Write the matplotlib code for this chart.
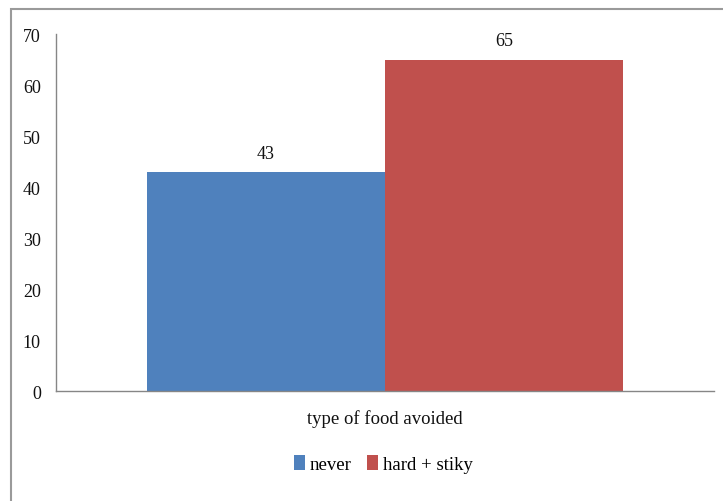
import matplotlib
matplotlib.use('Agg')
import matplotlib.pyplot as plt
from matplotlib.patches import Rectangle

# one category, two series
category = 'type of food avoided'
series = ['never', 'hard + stiky']
values = [43, 65]
colors = ['#4F81BD', '#C0504D']
yticks = [0, 10, 20, 30, 40, 50, 60, 70]

plt.rcParams['font.family'] = ['Liberation Serif', 'DejaVu Serif']

fig = plt.figure(figsize=(7.23, 5.02), dpi=100)
ax = fig.add_axes([0.0775, 0.219, 0.9101, 0.711])

w = 0.362
offsets = [-w / 2, w / 2]
for off, v, c, name in zip(offsets, values, colors, series):
    ax.bar(off, v, width=w, color=c, label=name)
    ax.text(off, v + 2.0, str(v), ha='center', va='bottom', fontsize=13, color='#111111')

ax.set_xlim(-0.5, 0.5)
ax.set_ylim(0, 70)
ax.set_yticks(yticks)
ax.set_yticklabels([str(t) for t in yticks], fontsize=13)
ax.set_xticks([0])
ax.set_xticklabels([category], fontsize=13.5)
ax.tick_params(axis='both', length=0, pad=11, colors='#111111')
ax.tick_params(axis='x', pad=13)
for s in ['top', 'right']:
    ax.spines[s].set_visible(False)
for s in ['left', 'bottom']:
    ax.spines[s].set_color('#868686')
    ax.spines[s].set_linewidth(1.0)

fig.legend(loc='center', bbox_to_anchor=(0.530, 0.074), ncol=2, frameon=False,
           fontsize=13.5, handlelength=0.6, handleheight=0.9, handletextpad=0.25,
           columnspacing=0.8)

# chart area border (only top and left visible in the picture)
fig.patches.append(Rectangle((10.5 / 723, -0.1), 1.2, 1.1 - 10 / 502, transform=fig.transFigure,
                             fill=False, edgecolor='#9a9a9a', linewidth=1.5))

fig.savefig('out.png', dpi=100)
